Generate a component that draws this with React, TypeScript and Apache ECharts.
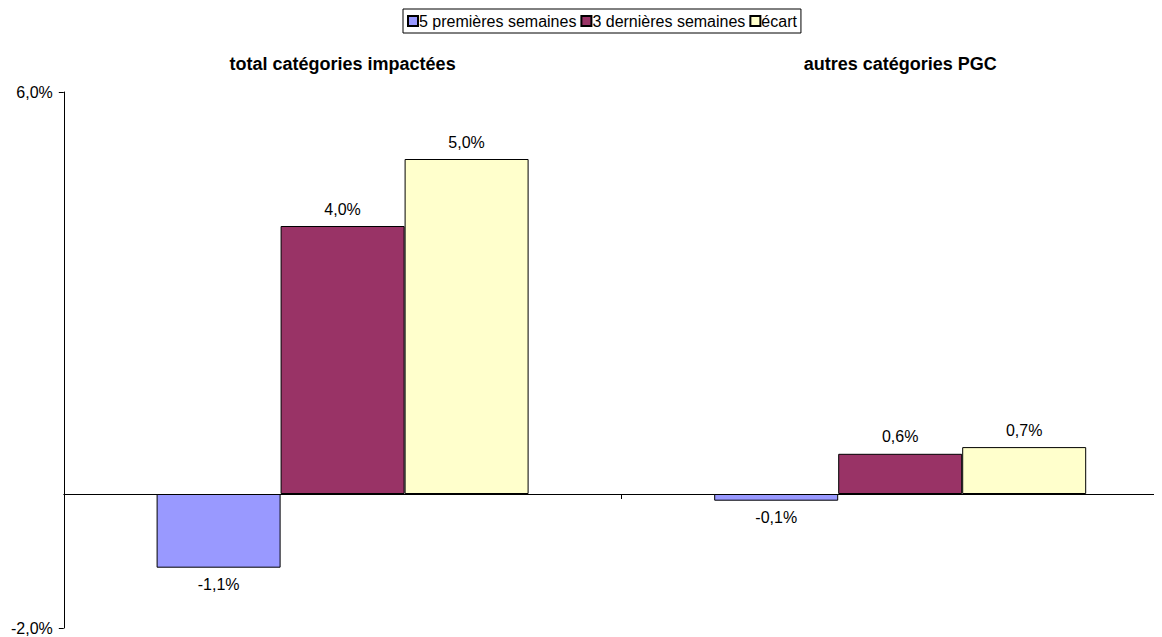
import React, { useEffect, useRef } from "react";
import * as echarts from "echarts";

const categories = ["total catégories impactées", "autres catégories PGC"];
const seriesNames = ["5 premières semaines", "3 dernières semaines", "écart"];
const firstWeeks = [-1.1, -0.1];
const lastWeeks = [4.0, 0.6];
const gap = [5.0, 0.7];
const colors = ["#9999FF", "#993366", "#FFFFCC"];
const yTicks = [-2, 6];

const fmt = (v: number) => v.toFixed(1).replace(".", ",") + "%";

export default function App() {
  const ref = useRef<HTMLDivElement>(null);
  useEffect(() => {
    if (!ref.current) return;
    const html = document.documentElement;
    const prevHtml = html.style.overflow;
    const prevBody = document.body.style.overflow;
    html.style.overflow = "hidden";
    document.body.style.overflow = "hidden";
    const chart = echarts.init(ref.current, undefined, { renderer: "svg" });
    const font = "Liberation Sans, Arial, sans-serif";
    const values = [firstWeeks, lastWeeks, gap];
    chart.setOption({
      animation: false,
      textStyle: { fontFamily: font },
      legend: {
        top: 1,
        left: 395,
        data: seriesNames,
        itemWidth: 10,
        itemHeight: 10,
        itemGap: 4,
        borderColor: "#000",
        borderWidth: 1,
        padding: [4, 4, 4, 4],
        textStyle: { fontSize: 16, color: "#000", fontFamily: font, padding: [0, 0, 0, -4] },
        icon: "rect",
      },
      grid: { left: 55, right: 0, top: 84, bottom: 9 },
      xAxis: [
        {
          type: "category",
          data: categories,
          axisLine: { onZero: true, lineStyle: { color: "#000", width: 1 } },
          axisTick: { show: true, length: 5, inside: false, lineStyle: { color: "#000" } },
          axisLabel: { show: false },
        },
        {
          type: "category",
          data: categories,
          position: "top",
          axisLine: { show: false },
          axisTick: { show: false },
          axisLabel: { fontWeight: "bold", fontSize: 18, color: "#000", margin: 19, fontFamily: font },
        },
      ],
      yAxis: {
        type: "value",
        min: -2,
        max: 6,
        interval: 2,
        splitLine: { show: false },
        axisLine: { show: true, lineStyle: { color: "#000" } },
        axisTick: { show: true, length: 5, customValues: yTicks, lineStyle: { color: "#000" } },
        axisLabel: {
          customValues: yTicks,
          formatter: (v: number) => fmt(v),
          fontSize: 16,
          color: "#000",
          margin: 11,
          fontFamily: font,
        },
      },
      series: seriesNames.map((name, i) => ({
        name,
        type: "bar",
        xAxisIndex: 0,
        data: values[i].map((v) => ({
          value: v,
          label: { position: v < 0 ? "bottom" : "top" },
        })),
        barWidth: 124,
        barGap: "0%",
        itemStyle: { color: colors[i], borderColor: "#000", borderWidth: 1 },
        label: {
          show: true,
          formatter: (p: any) => fmt(p.value),
          fontSize: 16,
          color: "#000",
          distance: 9,
          fontFamily: font,
        },
      })),
    });
    return () => {
      chart.dispose();
      html.style.overflow = prevHtml;
      document.body.style.overflow = prevBody;
    };
  }, []);
  return <div ref={ref} style={{ width: 1171, height: 629 }} />;
}
